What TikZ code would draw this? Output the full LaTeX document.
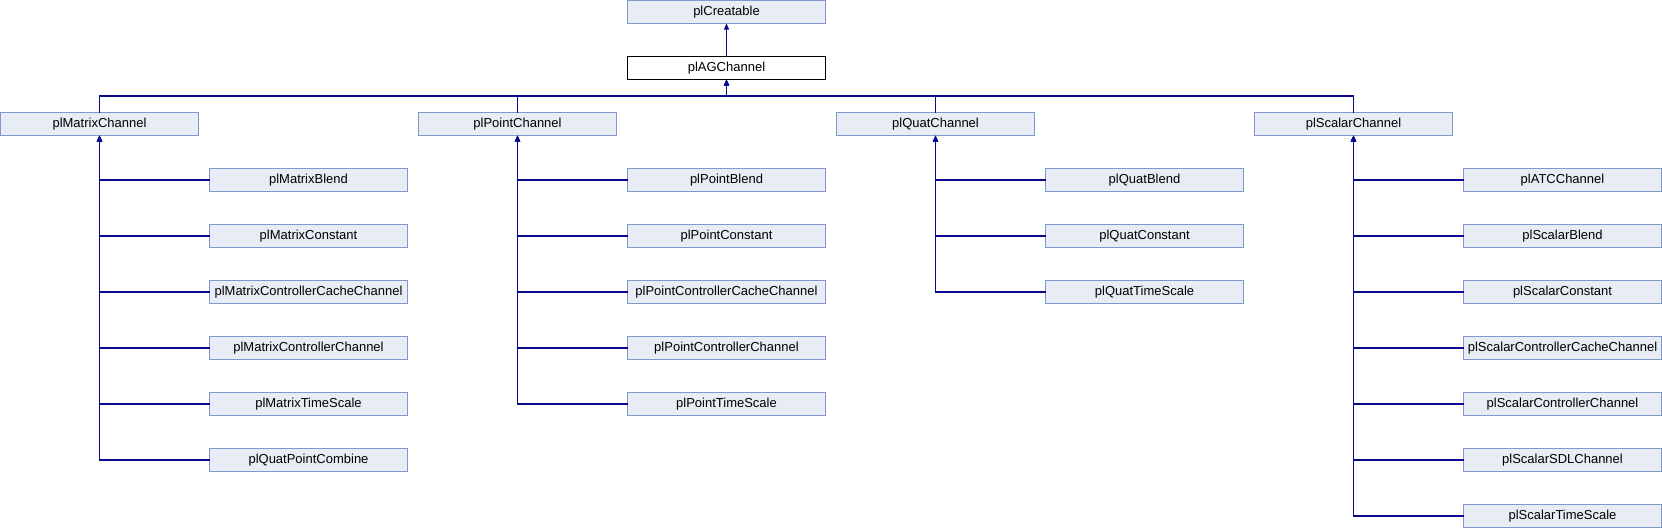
\documentclass[tikz,border=0pt]{standalone}
\usepackage{fontspec}
\setmainfont{Liberation Sans}
\usetikzlibrary{positioning}
\usetikzlibrary{arrows.meta}
\definecolor{clsfill}{RGB}{232,236,245}
\definecolor{clsdraw}{RGB}{128,152,204}
\definecolor{edgeblue}{RGB}{10,10,145}

\begin{document}
\begin{tikzpicture}[x=1pt, y=-1pt,
    cls/.style = {draw=clsdraw, fill=clsfill, line width=1pt, minimum width=198pt, minimum height=23pt,
                  inner sep=0pt, outer sep=0pt, font=\fontsize{13}{15}\selectfont},
    base/.style = {cls, draw=black, fill=white},
    inherit/.style = {draw=edgeblue, line width=1.2pt, -{Triangle[length=6pt,width=5pt]}}]
          \useasboundingbox (0,0) rectangle (1662,528);
          \node[cls](creat) at (726.5,12) {plCreatable};
          \node[base](ag) at (726.5,68) {plAGChannel};
          \node[cls](mchan) at (99.5,124) {plMatrixChannel};
          \node[cls](pchan) at (517.5,124) {plPointChannel};
          \node[cls](qchan) at (935.5,124) {plQuatChannel};
          \node[cls](schan) at (1353.5,124) {plScalarChannel};
          % matrix
          \node[cls](mblend)[below right=33pt and 11pt of mchan]{plMatrixBlend};
          \node[cls](mconst)[below=33pt of mblend]{plMatrixConstant};
          \node[cls](mcache)[below=33pt of mconst]{plMatrixControllerCacheChannel};
          \node[cls](mctrl)[below=33pt of mcache]{plMatrixControllerChannel};
          \node[cls](mtime)[below=33pt of mctrl]{plMatrixTimeScale};
          \node[cls](qpcomb)[below=33pt of mtime]{plQuatPointCombine};
          % point
          \node[cls](pblend)[below right=33pt and 11pt of pchan]{plPointBlend};
          \node[cls](pconst)[below=33pt of pblend]{plPointConstant};
          \node[cls](pcache)[below=33pt of pconst]{plPointControllerCacheChannel};
          \node[cls](pctrl)[below=33pt of pcache]{plPointControllerChannel};
          \node[cls](ptime)[below=33pt of pctrl]{plPointTimeScale};
          % quat
          \node[cls](qblend)[below right=33pt and 11pt of qchan]{plQuatBlend};
          \node[cls](qconst)[below=33pt of qblend]{plQuatConstant};
          \node[cls](qtime)[below=33pt of qconst]{plQuatTimeScale};
          % scalar
          \node[cls](atc)[below right=33pt and 11pt of schan]{plATCChannel};
          \node[cls](sblend)[below=33pt of atc]{plScalarBlend};
          \node[cls](sconst)[below=33pt of sblend]{plScalarConstant};
          \node[cls](scache)[below=33pt of sconst]{plScalarControllerCacheChannel};
          \node[cls](sctrl)[below=33pt of scache]{plScalarControllerChannel};
          \node[cls](ssdl)[below=33pt of sctrl]{plScalarSDLChannel};
          \node[cls](stime)[below=33pt of ssdl]{plScalarTimeScale};
          \draw[inherit] (ag) -- (creat);
          \draw[inherit] (mchan.north) -- ++(0,-16.5) -| (ag.south);
          \draw[inherit] (pchan.north) -- ++(0,-16.5) -| (ag.south);
          \draw[inherit] (qchan.north) -- ++(0,-16.5) -| (ag.south);
          \draw[inherit] (schan.north) -- ++(0,-16.5) -| (ag.south);
          \draw[inherit] (mblend) -| (mchan);
          \draw[inherit] (mconst) -| (mchan);
          \draw[inherit] (mcache) -| (mchan);
          \draw[inherit] (mctrl) -| (mchan);
          \draw[inherit] (mtime) -| (mchan);
          \draw[inherit] (qpcomb) -| (mchan);
          \draw[inherit] (pblend) -| (pchan);
          \draw[inherit] (pconst) -| (pchan);
          \draw[inherit] (pcache) -| (pchan);
          \draw[inherit] (pctrl) -| (pchan);
          \draw[inherit] (ptime) -| (pchan);
          \draw[inherit] (qblend) -| (qchan);
          \draw[inherit] (qconst) -| (qchan);
          \draw[inherit] (qtime) -| (qchan);
          \draw[inherit] (atc) -| (schan);
          \draw[inherit] (sblend) -| (schan);
          \draw[inherit] (sconst) -| (schan);
          \draw[inherit] (scache) -| (schan);
          \draw[inherit] (sctrl) -| (schan);
          \draw[inherit] (ssdl) -| (schan);
          \draw[inherit] (stime) -| (schan);
        \end{tikzpicture}
\end{document}
